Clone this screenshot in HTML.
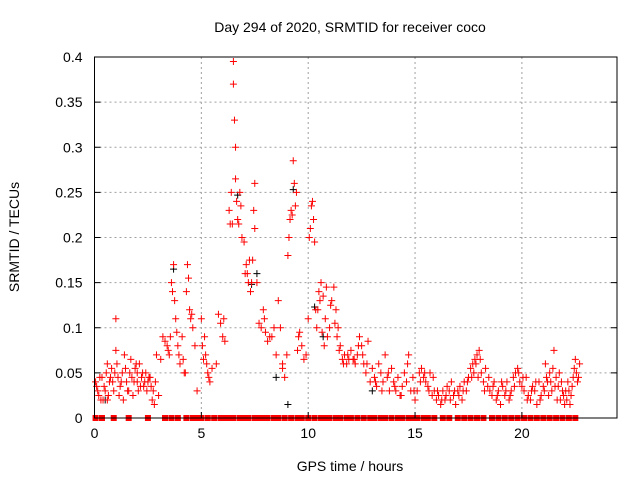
<!DOCTYPE html>
<html><head><meta charset="utf-8">
<style>
body{margin:0;background:#fff;}
svg{display:block;font-family:"Liberation Sans",sans-serif;}
</style></head>
<body>
<svg id="chart" width="640" height="480" viewBox="0 0 640 480">
<text x="350" y="32" font-size="14" text-anchor="middle">Day 294 of 2020, SRMTID for receiver coco</text>
<text x="350" y="471" font-size="14" text-anchor="middle">GPS time / hours</text>
<text transform="translate(19,237) rotate(-90)" font-size="14" text-anchor="middle">SRMTID / TECUs</text>
<g id="grid"></g><g id="marks"></g><g id="axes"></g>
</svg>
<script>
const xTicks=[0,5,10,15,20];
const yTicks=[0,0.05,0.1,0.15,0.2,0.25,0.3,0.35,0.4];
const yTickLabels=["0","0.05","0.1","0.15","0.2","0.25","0.3","0.35","0.4"];
const hours=[
0.05,0.1,0.2,0.3,0.35,0.5,0.55,0.6,0.7,0.8,
0.9,1.0,1.05,1.1,1.2,1.3,1.35,1.4,1.5,1.6,
1.7,1.75,1.8,1.9,2.0,2.05,2.1,2.2,2.3,2.4,
2.45,2.5,2.6,2.7,2.8,2.9,3.1,3.2,3.3,3.4,
3.5,3.6,3.7,3.75,3.8,3.85,3.9,4.0,4.1,4.2,
4.3,4.35,4.4,4.45,4.5,4.6,4.7,4.8,5.0,5.05,
5.1,5.2,5.3,5.4,5.5,5.7,5.8,5.9,6.0,6.1,
6.3,6.4,6.45,6.5,6.5,6.55,6.6,6.6,6.65,6.7,
6.75,6.8,6.9,7.0,7.05,7.1,7.2,7.3,7.4,7.5,
7.5,7.6,7.7,7.8,7.9,8.0,8.1,8.3,8.5,8.6,
8.7,8.8,8.9,9.0,9.05,9.1,9.2,9.25,9.3,9.35,
9.4,9.5,9.6,9.7,9.8,9.9,10.0,10.1,10.15,10.2,
10.25,10.3,10.35,10.4,10.5,10.6,10.7,10.8,10.9,11.0,
11.1,11.2,11.3,11.4,11.5,11.6,11.7,11.8,11.9,12.0,
12.1,12.2,12.3,12.4,12.5,12.6,12.7,12.8,12.9,13.0,
13.1,13.2,13.3,13.4,13.5,13.6,13.7,13.8,13.9,14.0,
14.1,14.2,14.3,14.4,14.5,14.6,14.7,14.8,14.9,15.0,
15.1,15.2,15.3,15.4,15.5,15.6,15.7,15.8,15.9,16.0,
16.1,16.2,16.3,16.4,16.5,16.6,16.7,16.8,16.9,17.0,
17.1,17.2,17.3,17.4,17.5,17.6,17.7,17.8,17.9,18.0,
18.1,18.2,18.3,18.4,18.5,18.6,18.7,18.8,18.9,19.0,
19.1,19.2,19.3,19.4,19.5,19.6,19.7,19.8,19.9,20.0,
20.1,20.2,20.3,20.4,20.5,20.6,20.7,20.8,20.9,21.0,
21.1,21.2,21.3,21.4,21.5,21.6,21.7,21.8,21.9,22.0,
22.1,22.2,22.3,22.4,22.5,22.55,22.6,22.7,
0.15,0.25,0.4,0.45,0.65,0.75,0.85,0.95,1.15,1.25,
1.45,1.55,1.65,1.85,1.95,2.15,2.25,2.35,2.55,2.65,
2.75,2.85,3.0,3.45,3.55,3.65,3.95,4.15,4.25,4.55,
5.15,5.25,5.35,6.05,6.35,6.85,7.15,7.25,7.35,7.45,
7.95,8.2,8.4,8.8,9.15,9.45,9.55,10.05,10.45,10.55,
10.65,10.75,10.85,11.05,11.25,11.35,11.45,11.65,11.85,12.15,
12.35,12.55,12.75,13.15,13.45,13.75,14.05,14.35,14.65,14.95,
15.25,15.45,15.65,15.85,16.05,16.25,16.45,16.65,16.85,17.05,
17.25,17.45,17.65,17.75,17.85,17.95,18.05,18.25,18.45,18.65,
18.85,19.05,19.25,19.45,19.65,19.85,20.05,20.25,20.45,20.65,
20.85,21.05,21.15,21.25,21.35,21.45,21.55,21.65,21.75,21.85,
21.95,22.05,22.15,22.25,22.35,22.45,22.65,0.6,1.0,2.0];
const tecu=[
0.04,0.035,0.025,0.02,0.045,0.03,0.05,0.02,0.04,0.055,
0.03,0.11,0.06,0.045,0.035,0.05,0.02,0.07,0.04,0.03,
0.065,0.045,0.025,0.055,0.04,0.03,0.06,0.045,0.035,0.05,
0.03,0.04,0.045,0.02,0.015,0.07,0.065,0.09,0.085,0.08,
0.07,0.15,0.17,0.13,0.11,0.095,0.08,0.06,0.09,0.05,
0.14,0.17,0.155,0.12,0.11,0.1,0.08,0.03,0.11,0.08,
0.065,0.07,0.05,0.04,0.055,0.06,0.115,0.105,0.09,0.085,
0.23,0.25,0.215,0.395,0.37,0.33,0.3,0.265,0.24,0.22,
0.215,0.25,0.2,0.195,0.16,0.17,0.15,0.14,0.175,0.26,
0.21,0.15,0.105,0.1,0.12,0.095,0.085,0.09,0.07,0.13,
0.1,0.055,0.045,0.07,0.18,0.2,0.23,0.225,0.285,0.26,
0.235,0.075,0.095,0.08,0.065,0.07,0.11,0.21,0.235,0.24,
0.22,0.195,0.12,0.1,0.14,0.15,0.135,0.11,0.09,0.1,
0.13,0.145,0.12,0.1,0.08,0.065,0.07,0.06,0.065,0.075,
0.065,0.06,0.07,0.09,0.08,0.06,0.05,0.085,0.04,0.055,
0.045,0.035,0.06,0.05,0.04,0.07,0.045,0.03,0.055,0.04,
0.03,0.045,0.025,0.035,0.05,0.04,0.07,0.03,0.045,0.02,
0.03,0.05,0.055,0.045,0.04,0.035,0.05,0.025,0.03,0.02,
0.025,0.015,0.03,0.02,0.035,0.03,0.04,0.025,0.015,0.03,
0.035,0.02,0.04,0.03,0.045,0.055,0.06,0.065,0.07,0.075,
0.05,0.04,0.055,0.035,0.03,0.025,0.04,0.02,0.03,0.015,
0.035,0.025,0.04,0.02,0.03,0.045,0.05,0.055,0.04,0.035,
0.03,0.045,0.025,0.02,0.035,0.03,0.015,0.04,0.025,0.035,
0.06,0.04,0.05,0.03,0.075,0.045,0.035,0.02,0.03,0.015,
0.02,0.03,0.025,0.045,0.065,0.05,0.04,0.06,
0.03,0.045,0.02,0.035,0.025,0.045,0.04,0.05,0.025,0.04,
0.055,0.03,0.05,0.04,0.06,0.035,0.05,0.04,0.045,0.035,
0.03,0.04,0.025,0.075,0.09,0.14,0.07,0.065,0.05,0.115,
0.09,0.06,0.045,0.11,0.215,0.235,0.16,0.175,0.15,0.23,
0.11,0.09,0.1,0.06,0.22,0.25,0.09,0.2,0.12,0.13,
0.095,0.08,0.145,0.125,0.105,0.09,0.075,0.06,0.07,0.065,
0.08,0.07,0.06,0.04,0.03,0.05,0.035,0.025,0.06,0.03,
0.04,0.05,0.03,0.045,0.03,0.02,0.025,0.02,0.03,0.025,
0.03,0.04,0.045,0.05,0.06,0.045,0.065,0.03,0.045,0.035,
0.025,0.04,0.03,0.025,0.035,0.05,0.045,0.02,0.03,0.04,
0.02,0.03,0.045,0.025,0.04,0.055,0.035,0.02,0.05,0.04,
0.025,0.03,0.04,0.015,0.035,0.055,0.045,0.06,0.075,0.05];
const zeroHours=[0.05,0.35,0.9,1.6,2.5,3.3,3.6,3.9,4.3,4.6,4.8,5.0,5.3,5.6,5.9,6.1,6.3,6.5,6.8,7.0,7.2,7.5,7.7,7.9,8.1,8.4,8.6,8.9,9.2,9.5,9.7,10.0,10.3,10.6,10.8,11.0,11.3,11.5,11.8,12.0,12.3,12.6,12.9,13.1,13.4,13.6,13.9,14.2,14.4,14.7,14.9,15.1,15.4,15.6,15.9,16.3,16.6,17.0,17.3,17.6,17.9,18.2,18.6,18.9,19.2,19.5,19.8,20.1,20.4,20.7,21.0,21.3,21.6,21.9,22.2,22.5];
const blackHours=[3.7,6.7,7.35,7.6,8.5,9.3,9.05,10.3,10.7,13.0,0.5];
const blackTecu=[0.165,0.247,0.148,0.16,0.045,0.253,0.015,0.123,0.09,0.03,0.02];
const L=94.5,R=617,T=57,B=418,XMAX=(617-94.5)/21.37;
const xs=h=>L+h/XMAX*(R-L);
const ys=v=>B-v/0.4*(B-T);
const NS="http://www.w3.org/2000/svg";
function mk(t,a,p){const e=document.createElementNS(NS,t);for(const k in a)e.setAttribute(k,a[k]);p.appendChild(e);return e;}
const grid=document.getElementById('grid'),marks=document.getElementById('marks'),axes=document.getElementById('axes');
xTicks.forEach((t,i)=>{const x=xs(t);
 if(t>0){const g=mk('line',{x1:x,x2:x,y1:T,y2:B,stroke:'#a0a0a0','stroke-dasharray':'2,3'},grid);
 
 }
 const tk=mk('line',{x1:x,x2:x,y1:B,y2:B-6,stroke:'#000'},axes);
 
 
 const tx=mk('text',{x:x,y:B+20,'font-size':14,'text-anchor':'middle'},axes);tx.textContent=String(t);
 
 });
yTicks.forEach((t,i)=>{const y=ys(t);
 if(t>0&&t<0.4){const g=mk('line',{x1:L,x2:R,y1:y,y2:y,stroke:'#a0a0a0','stroke-dasharray':'2,3'},grid);
 
 }
 const tk=mk('line',{x1:L,x2:L+6,y1:y,y2:y,stroke:'#000'},axes);
 
 
 const tk2=mk('line',{x1:R,x2:R-6,y1:y,y2:y,stroke:'#000'},axes);
 
 
 const tx=mk('text',{x:L-12,y:y+5,'font-size':14,'text-anchor':'end'},axes);tx.textContent=yTickLabels[i];
 
 });
const fr=mk('rect',{x:L,y:T,width:R-L,height:B-T,fill:'none',stroke:'#000','stroke-width':1},axes);


function plus(x,y,c,name){const p=mk('path',{d:`M${x-3.5},${y}h7M${x},${y-3.5}v7`,stroke:c,'stroke-width':1,fill:'none'},marks);
 
 }
blackHours.forEach((h,i)=>plus(xs(h),ys(blackTecu[i]),'#000','point-black'));
hours.forEach((h,i)=>plus(xs(h),ys(tecu[i]),'#f00','point-red'));
zeroHours.forEach(h=>{const r=mk('rect',{x:xs(h)-3,y:B-3,width:6,height:6,fill:'#f00'},marks);
 
 });
</script>
</body></html>
